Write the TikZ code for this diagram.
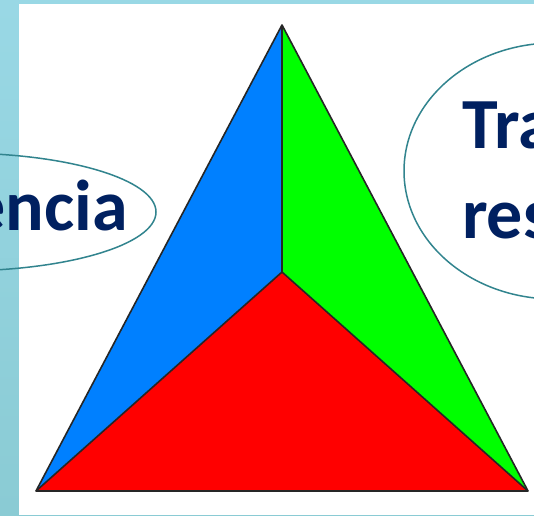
\documentclass[tikz,border=0pt]{standalone}
\usepackage{fontspec}
\setmainfont{Carlito}
\definecolor{stripTop}{RGB}{153,216,229}
\definecolor{stripBot}{RGB}{138,203,212}
\definecolor{navy}{RGB}{0,32,96}
\definecolor{teal}{RGB}{49,132,142}
\definecolor{triBlue}{RGB}{0,128,255}
\definecolor{triGreen}{RGB}{0,255,0}
\definecolor{triRed}{RGB}{255,0,0}
\tikzset{
  bubble/.style={draw=teal, line width=1.5pt},
  lbl/.style={text=navy, font=\bfseries\fontsize{72}{90}\selectfont, inner sep=0pt},
  edge/.style={draw=black!85, line width=1.6pt, line join=round}
}
\begin{document}
\begin{tikzpicture}[x=1pt,y=-1pt]
\clip (0,0) rectangle (534,515);
\shade[top color=stripTop, bottom color=stripBot] (0,0) rectangle (534,515);
\fill[white] (19,4) rectangle (534,515);
% left bubble
\draw[bubble] (-42,212) ellipse [x radius=198, y radius=59];
\node[lbl, anchor=base east] (enc) at (128,230) {encia};
% right bubble
\draw[bubble] (554,171) ellipse [x radius=150, y radius=128];
\node[lbl, anchor=base west] (tra) at (462,148) {Tra};
\node[lbl, anchor=base west] (res) at (462,238) {res};
% triangle
\coordinate (A) at (282,25);
\coordinate (B) at (36,491);
\coordinate (C) at (528,491);
\coordinate (O) at (282,272);
\fill[triBlue] (A) -- (O) -- (B) -- cycle;
\fill[triGreen] (A) -- (C) -- (O) -- cycle;
\fill[triRed] (B) -- (O) -- (C) -- cycle;
\draw[edge] (A) -- (B) -- (C) -- cycle;
\draw[edge] (A) -- (O);
\draw[edge] (B) -- (O);
\draw[edge] (C) -- (O);
\end{tikzpicture}
\end{document}
